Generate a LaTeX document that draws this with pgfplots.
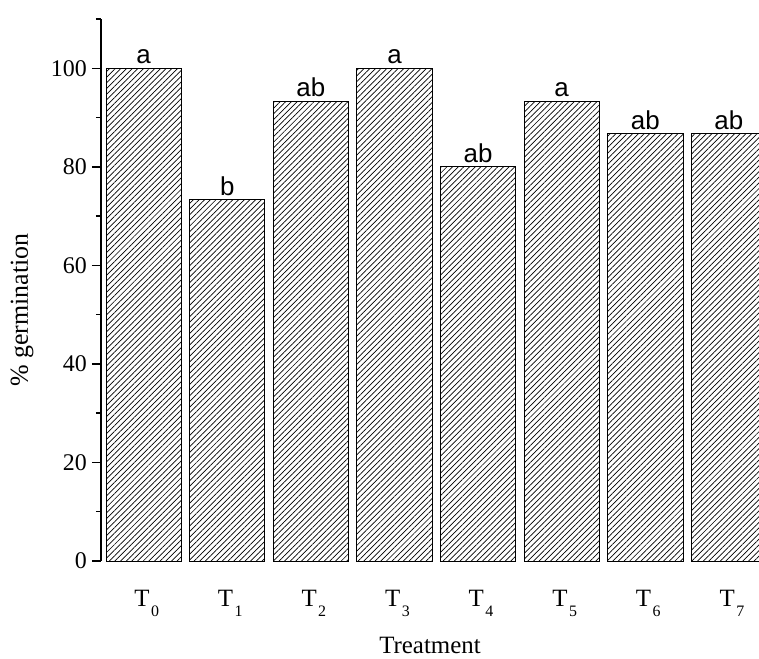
\documentclass[border=0pt]{standalone}
\usepackage{fontspec}
\setmainfont{Liberation Serif}
\newfontfamily\arial{Liberation Sans}
\usepackage{pgfplots}
\pgfplotsset{compat=1.18}
\usetikzlibrary{patterns.meta}
\newcommand{\Tl}[1]{T\kern1.5bp\raisebox{-10bp}{\fontsize{16}{16}\selectfont #1}}
\begin{document}
\begin{tikzpicture}
\useasboundingbox (-101bp,-98bp) rectangle (658bp,561bp);
\begin{axis}[
  scale only axis, width=658bp, height=542bp,
  anchor=south west, at={(0,0)},
  xmin=-0.51, xmax=7.36, ymin=0, ymax=110,
  axis lines*=left,
  x axis line style={draw=none},
  y axis line style={line width=1.5bp},
  ytick={0,20,...,100}, minor ytick={10,30,...,110},
  tick align=outside, major tick length=9bp, minor tick length=5bp,
  ytick style={line width=1.5bp, black},
  minor tick style={line width=1.5bp, black},
  /pgf/number format/assume math mode=true,
  xtick={0,...,7},
  xticklabels={\Tl{0},\Tl{1},\Tl{2},\Tl{3},\Tl{4},\Tl{5},\Tl{6},\Tl{7}},
  xtick style={draw=none},
  xticklabel style={font=\fontsize{25}{25}\selectfont, anchor=base, yshift=-37bp, xshift=3bp},
  yticklabel style={font=\fontsize{24}{24}\selectfont, inner sep=2bp, xshift=-3bp},
  ylabel={\% germination},
  ylabel style={font=\fontsize{26}{26}\selectfont, at={(axis description cs:-0.12,0.463)}, anchor=center},
  xlabel={Treatment},
  xlabel style={font=\fontsize{25}{25}\selectfont, at={(axis description cs:0.5,-0.155)}, anchor=center},
  ybar, bar width=0.9,
  clip=true,
]
\addplot[ybar, draw=black, line width=0.8bp,
  pattern={Lines[angle=45,distance=4bp,line width=0.7bp]},
  nodes near coords, point meta=explicit symbolic,
  nodes near coords style={font=\arial\fontsize{26}{26}\selectfont, anchor=south, inner sep=0pt, yshift=4bp}]
coordinates {(0,100)[a] (1,73.3)[b] (2,93.3)[ab] (3,100)[a] (4,80)[ab] (5,93.3)[a] (6,86.7)[ab] (7,86.7)[ab]};
\end{axis}
\end{tikzpicture}
\end{document}
